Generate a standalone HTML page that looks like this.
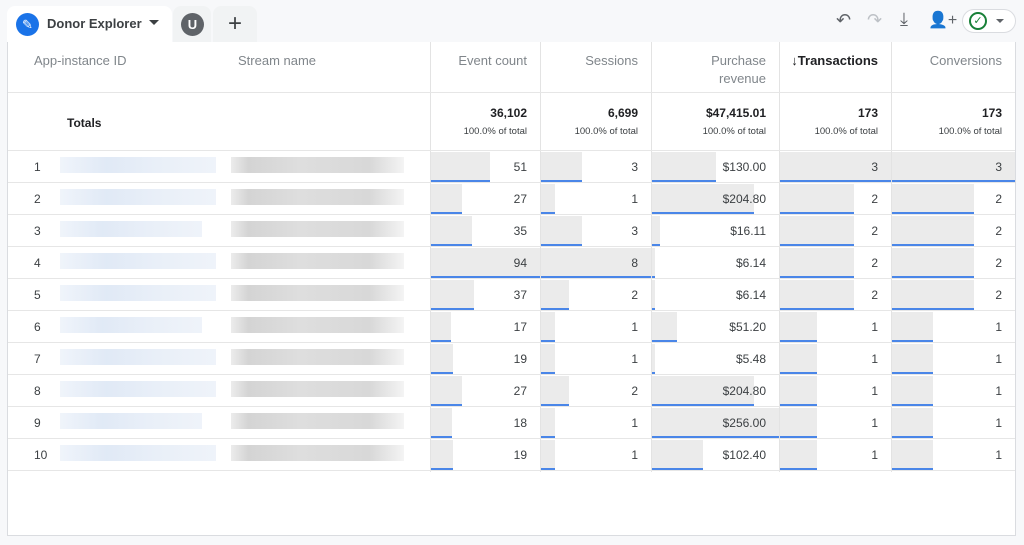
<!DOCTYPE html>
<html><head><meta charset="utf-8">
<style>
body{margin:0;width:1024px;height:545px;background:#f7f8fa;font-family:"Liberation Sans",Arial,sans-serif;overflow:hidden;position:relative}
.abs{position:absolute}
.panel{left:7px;top:42px;width:1009px;height:494px;background:#fff;border:1px solid #dadce0;border-top:none;box-sizing:border-box}
.hdr{color:#80868b;font-size:13px;line-height:18px}
.vl{width:1px;background:#e3e3e3}
.hl{height:1px;background:#e6e6e6}
.num{font-size:12px;color:#3c4043;text-align:right}
</style></head><body>
<div class="abs" style="left:7px;top:6px;width:165px;height:37px;background:#fff;border-radius:8px 8px 0 0"></div>
<div class="abs" style="left:16px;top:13px;width:23px;height:23px;border-radius:50%;background:#1a73e8;color:#fff;font-size:13px;text-align:center;line-height:23px">✎</div>
<div class="abs" style="left:47px;top:16px;font-size:13px;font-weight:bold;color:#3c4043">Donor Explorer</div>
<div class="abs" style="left:149px;top:20px;width:0;height:0;border-left:5px solid transparent;border-right:5px solid transparent;border-top:5px solid #3c4043"></div>
<div class="abs" style="left:173px;top:6px;width:38px;height:36px;background:#f1f3f4;border-radius:8px 8px 0 0"></div>
<div class="abs" style="left:181px;top:13px;width:23px;height:23px;border-radius:50%;background:#5f6368;color:#fff;font-size:13px;font-weight:bold;text-align:center;line-height:23px">U</div>
<div class="abs" style="left:213px;top:6px;width:44px;height:36px;background:#f1f3f4;border-radius:8px 8px 0 0;color:#3c4043;font-size:24px;text-align:center;line-height:36px">+</div>
<div class="abs" style="left:836px;top:10px;font-size:18px;color:#5f6368">↶</div>
<div class="abs" style="left:867px;top:10px;font-size:18px;color:#bdc1c6">↷</div>
<div class="abs" style="left:900px;top:9px;font-size:18px;color:#5f6368">⤓</div>
<div class="abs" style="left:928px;top:10px;font-size:16px;color:#5f6368">👤+</div>
<div class="abs" style="left:962px;top:9px;width:52px;height:22px;border:1px solid #dadce0;border-radius:12px;background:#fff"></div>
<div class="abs" style="left:969px;top:12px;width:14px;height:14px;border:2px solid #188038;border-radius:50%;color:#188038;font-size:11px;line-height:14px;text-align:center">✓</div>
<div class="abs" style="left:996px;top:19px;width:0;height:0;border-left:4px solid transparent;border-right:4px solid transparent;border-top:4px solid #5f6368"></div>

<div class="abs panel"></div>
<div id="tbl"></div>
<script>
const eventCount=[51,27,35,94,37,17,19,27,18,19];
const sessions=[3,1,3,8,2,1,1,2,1,1];
const revenue=[130.00,204.80,16.11,6.14,6.14,51.20,5.48,204.80,256.00,102.40];
const transactions=[3,2,2,2,2,1,1,1,1,1];
const conversions=[3,2,2,2,2,1,1,1,1,1];
const totals=["36,102","6,699","$47,415.01","173","173"];
const headers=[["Event count"],["Sessions"],["Purchase","revenue"],["↓Transactions"],["Conversions"]];
const colX=[431,541,652,780,892,1016];
const rowTop=150,rowH=32;
const series=[eventCount,sessions,revenue,transactions,conversions];
const fmt=[v=>String(v),v=>String(v),v=>"$"+v.toFixed(2),v=>String(v),v=>String(v)];
const b=document.body;
function add(css,name,inter,txt,cls){const d=document.createElement('div');d.className='abs '+(cls||'');d.style.cssText=css;


if(txt!=null)d.innerHTML=txt;b.appendChild(d);return d;}
// lines
for(let i=0;i<5;i++)add(`left:${colX[i]-1}px;top:42px;height:430px`,'column-divider','false',null,'vl');
add('left:8px;top:92px;width:1007px','header-divider','false',null,'hl');
add('left:8px;top:150px;width:1007px','totals-divider','false',null,'hl');
for(let r=1;r<=10;r++)add(`left:8px;top:${rowTop+r*rowH}px;width:1007px`,'row-divider','false',null,'hl');
add('left:34px;top:52px','header-app-instance-id','true','App-instance ID','hdr');
add('left:238px;top:52px','header-stream-name','true','Stream name','hdr');
add('left:67px;top:116px;font-size:12px;font-weight:bold;color:#202124','totals-label','false','Totals');
for(let c=0;c<5;c++){
 const w=colX[c+1]-colX[c];
 add(`left:${colX[c]}px;top:52px;width:${w-14}px;text-align:right;${c==3?'color:#202124;font-weight:bold':''}`,'header-'+c,'true',headers[c].join('<br>'),'hdr');
 add(`left:${colX[c]}px;top:106px;width:${w-14}px;text-align:right;font-size:12px;font-weight:bold;color:#202124`,'total-value','false',totals[c]);
 add(`left:${colX[c]}px;top:126px;width:${w-14}px;text-align:right;font-size:9.5px;color:#3c4043`,'total-percent','false','100.0% of total');
 const s=series[c],mx=Math.max(...s);
 for(let r=0;r<s.length;r++){
  const y=rowTop+r*rowH+2,bw=Math.round(s[r]/mx*(w-1));
  add(`left:${colX[c]}px;top:${y}px;width:${bw}px;height:28px;background:#ebebeb;border-bottom:2px solid #4a86e8`,'bar','false');
  add(`left:${colX[c]}px;top:${y+8}px;width:${w-14}px`,'cell-value','false',fmt[c](s[r]),'num');
 }
}
for(let r=0;r<10;r++){
 const y=rowTop+r*rowH;
 add(`left:34px;top:${y+10}px;font-size:12px;color:#3c4043`,'row-index','false',String(r+1));
 add(`left:60px;top:${y+7}px;width:${r%3==2?142:156}px;height:16px;background:linear-gradient(90deg,#eef3fa,#dde7f5 30%,#e6edf7 60%,#edf2f9);opacity:.9`,'blurred-app-id','false');
 add(`left:231px;top:${y+7}px;width:173px;height:16px;background:linear-gradient(90deg,#ececec,#d4d4d4 10%,#dedede 40%,#d8d8d8 80%,#f4f4f4)`,'blurred-stream-name','false');
}
</script>
</body></html>
